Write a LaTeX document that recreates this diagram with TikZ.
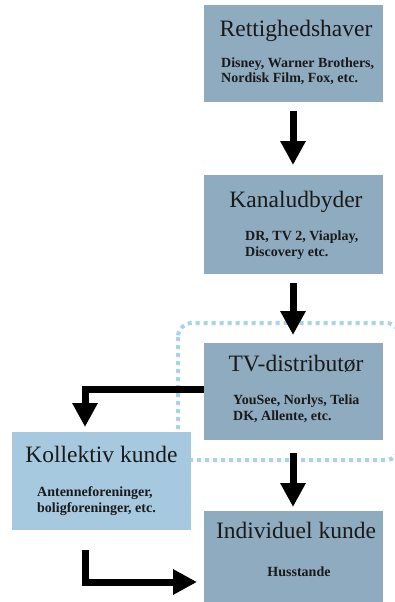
\documentclass[tikz,border=0pt]{standalone}
\usepackage{fontspec}
\setmainfont{Liberation Serif}
\usetikzlibrary{arrows.meta}
\definecolor{boxc}{HTML}{8EABBF}
\definecolor{lboxc}{HTML}{A6C9DF}
\definecolor{dotc}{HTML}{A8D3EE}
\definecolor{txtc}{HTML}{1A1A1A}
\tikzset{
  x=1pt,y=-1pt,
  box/.style={fill=boxc,draw=none},
  lbox/.style={fill=lboxc,draw=none},
  ttl/.style={anchor=base,inner sep=0,text=txtc,font=\fontsize{23.5}{25}\selectfont},
  sub/.style={anchor=base west,inner sep=0,text=txtc,font=\fontsize{14}{15}\selectfont\bfseries},
  flow/.style={line width=7pt,-{Triangle[width=24pt,length=24pt]}},
}
\begin{document}
\begin{tikzpicture}
\useasboundingbox (0,0) rectangle (395,602);
\begin{scope}
\clip (0,0) rectangle (395,602);
% dotted region
\draw[dotc,line width=4pt,dash pattern=on 4pt off 4pt,rounded corners=14pt] (178,323) rectangle (400,460);
% boxes
\fill[box] (204,5) rectangle (383,102);
\fill[box] (204,175) rectangle (383,274);
\fill[box] (204,343) rectangle (383,440);
\fill[lbox] (12,432) rectangle (191,530);
\fill[box] (204,511) rectangle (383,602);
\end{scope}
% named anchors for connectors
\coordinate (r1) at (293,102);
\coordinate (k1t) at (293,175);
\coordinate (k1b) at (293,274);
\coordinate (tvt) at (293,343);
\coordinate (tvb) at (293,440);
\coordinate (tvl) at (204,389.5);
\coordinate (kot) at (85,432);
\coordinate (kob) at (85,530);
\coordinate (indt) at (293,511);
\coordinate (indl) at (204,582);
% texts
\node[ttl] (t1) at (296,37) {Rettighedshaver};
\node[sub] (s1a) at (221,67) {Disney, Warner Brothers,};
\node[sub] (s1b) at (221,82) {Nordisk Film, Fox, etc.};
\node[ttl] (t2) at (296,207) {Kanaludbyder};
\node[sub] (s2a) at (245,240) {DR, TV 2, Viaplay,};
\node[sub] (s2b) at (245,256) {Discovery etc.};
\node[ttl] (t3) at (296,371) {TV-distributør};
\node[sub] (s3a) at (233,404) {YouSee, Norlys, Telia};
\node[sub] (s3b) at (233,420) {DK, Allente, etc.};
\node[ttl] (t4) at (101.5,462) {Kollektiv kunde};
\node[sub] (s4a) at (37,496) {Antenneforeninger,};
\node[sub] (s4b) at (37,512) {boligforeninger, etc.};
\node[ttl] (t5) at (296,538) {Individuel kunde};
\node[sub,anchor=base] (s5) at (299,576) {Husstande};
% arrows
\draw[flow] ([yshift=-9pt]r1) -- ([yshift=10pt]k1t);
\draw[flow] ([yshift=-9pt]k1b) -- ([yshift=8pt]tvt);
\draw[flow] (tvl) -| ([yshift=5pt]kot);
\draw[flow] ([yshift=-13pt]tvb) -- ([yshift=4pt]indt);
\draw[flow] ([yshift=-20pt]kob) |- ([xshift=-7pt]indl);
\end{tikzpicture}
\end{document}
